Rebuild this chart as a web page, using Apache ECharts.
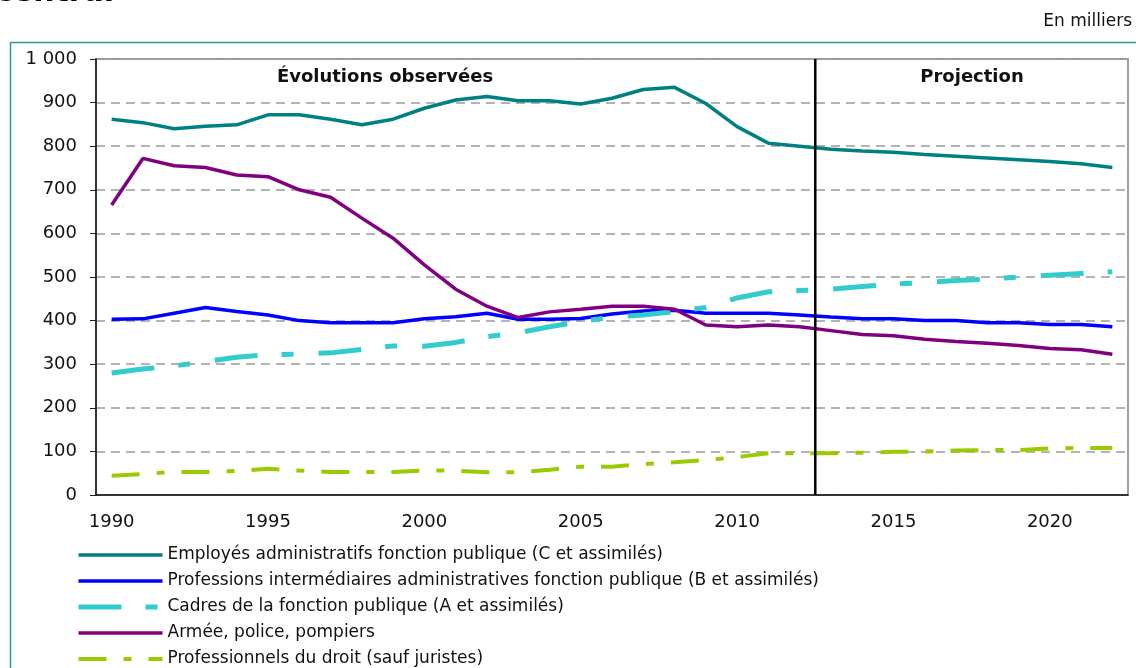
<!DOCTYPE html>
<html>
<head>
<meta charset="utf-8">
<script src="https://cdn.jsdelivr.net/npm/echarts@6/dist/echarts.min.js"></script>
<style>
  html, body { margin: 0; background: #fff; }
  #chart { width: 1136px; height: 668px; }
</style>
</head>
<body>
<div id="chart"></div>
<script>
// yearly values, in thousands
const years = ['1990', '1991', '1992', '1993', '1994', '1995', '1996', '1997', '1998', '1999',
  '2000', '2001', '2002', '2003', '2004', '2005', '2006', '2007', '2008', '2009',
  '2010', '2011', '2012', '2013', '2014', '2015', '2016', '2017', '2018', '2019',
  '2020', '2021', '2022'];

const employesC = [862, 854, 840, 846, 849, 872, 872, 862, 849, 862,
  887, 906, 914, 904, 904, 897, 910, 930, 935, 898,
  845, 807, 800, 793, 789, 786, 781, 777, 773, 769,
  765, 760, 751];

const professionsB = [403, 404, 417, 430, 421, 413, 400, 395, 395, 395,
  404, 409, 417, 403, 403, 405, 415, 422, 424, 417,
  417, 417, 413, 408, 404, 404, 400, 400, 395, 395,
  391, 391, 386];

const cadresA = [280, 289, 296, 306, 316, 322, 323, 326, 334, 342,
  341, 350, 363, 372, 386, 398, 408, 413, 421, 430,
  452, 466, 469, 472, 478, 484, 487, 492, 495, 500,
  504, 508, 512];

const armee = [665, 772, 755, 751, 734, 730, 700, 683, 635, 589,
  528, 472, 433, 407, 420, 426, 433, 433, 426, 390,
  386, 390, 386, 377, 368, 365, 357, 352, 348, 343,
  336, 333, 323];

const droit = [44, 48, 53, 53, 55, 60, 56, 53, 53, 53,
  56, 56, 52, 52, 58, 65, 65, 71, 75, 80,
  87, 96, 96, 96, 97, 99, 100, 102, 103, 103,
  107, 108, 108];

const seriesNames = [
  'Employés administratifs fonction publique (C et assimilés)',
  'Professions intermédiaires administratives fonction publique (B et assimilés)',
  'Cadres de la fonction publique (A et assimilés)',
  'Armée, police, pompiers',
  'Professionnels du droit (sauf juristes)'
];

// boundary between observed years and projection (between 2012 and 2013)
const projectionStart = 2012.5;

const font = 'DejaVu Sans';
const chart = echarts.init(document.getElementById('chart'));

function lineSeries(name, data, color, width, type) {
  return {
    name: name,
    type: 'line',
    data: data,
    symbol: 'none',
    lineStyle: { color: color, width: width, type: type || 'solid', cap: 'butt' },
    itemStyle: { color: color },
    emphasis: { disabled: true },
    animation: false
  };
}

const option = {
  animation: false,
  grid: {
    left: 96, right: 8, top: 59, bottom: 173,
    show: true, borderColor: '#a0a0a0', borderWidth: 2
  },
  xAxis: [
    {
      type: 'category',
      data: years,
      boundaryGap: true,
      axisLine: { lineStyle: { color: '#111', width: 1.5 } },
      axisTick: { interval: 0, length: 6, lineStyle: { color: '#222', width: 1 } },
      axisLabel: { interval: 4, margin: 18, fontFamily: font, fontSize: 18, color: '#111' },
      splitLine: { show: false }
    },
    {
      type: 'value', min: 1989.5, max: 2022.5, show: false
    }
  ],
  yAxis: {
    type: 'value',
    min: 0, max: 1000, interval: 100,
    axisLine: { show: true, lineStyle: { color: '#111', width: 1.5 } },
    axisTick: { show: true, length: 6, lineStyle: { color: '#222', width: 1 } },
    axisLabel: {
      margin: 19, fontFamily: font, fontSize: 18, color: '#111',
      formatter: v => String(v).replace(/\B(?=(\d{3})+(?!\d))/g, ' ')
    },
    splitLine: { lineStyle: { color: '#9a9a9a', width: 1.5, type: [9, 6] } }
  },
  legend: {
    data: seriesNames,
    orient: 'vertical',
    left: 71, top: 540, height: 200,
    itemWidth: 84, itemHeight: 20, itemGap: 6,
    selectedMode: false,
    itemStyle: { opacity: 0 },
    lineStyle: { width: 'inherit', type: 'inherit' },
    textStyle: { fontFamily: font, fontSize: 17, color: '#111', lineHeight: 20 }
  },
  series: [
    lineSeries(seriesNames[0], employesC, '#008080', 3.5),
    lineSeries(seriesNames[1], professionsB, '#0000ff', 3.5),
    lineSeries(seriesNames[2], cadresA, '#33cccc', 5, [43, 24, 12, 25]),
    lineSeries(seriesNames[3], armee, '#800080', 3.5),
    lineSeries(seriesNames[4], droit, '#99cc00', 4, [28, 17, 8, 17]),
    {
      name: 'separator',
      type: 'line',
      xAxisIndex: 1,
      data: [[projectionStart, 0], [projectionStart, 1000]],
      symbol: 'none',
      lineStyle: { color: '#000', width: 2.5 },
      z: 5,
      emphasis: { disabled: true }
    }
  ],
  graphic: [
    {
      type: 'rect', silent: true,
      shape: { x: 10.5, y: 42.5, width: 1200, height: 700 },
      style: { fill: 'none', stroke: '#2a9a98', lineWidth: 1.5 }
    },
    {
      type: 'text', x: -5, y: 8,
      style: { text: 'central', font: 'bold 30px "DejaVu Sans"', fill: '#000', verticalAlign: 'bottom' }
    },
    {
      type: 'text', right: 4, top: 13,
      style: { text: 'En milliers', font: '17px "DejaVu Sans"', fill: '#111' }
    },
    {
      type: 'text', x: 385, y: 77,
      style: { text: 'Évolutions observées', font: 'bold 18px "DejaVu Sans"', fill: '#111',
        align: 'center', verticalAlign: 'middle' }
    },
    {
      type: 'text', x: 972, y: 77,
      style: { text: 'Projection', font: 'bold 18px "DejaVu Sans"', fill: '#111',
        align: 'center', verticalAlign: 'middle' }
    }
  ]
};

chart.setOption(option);
</script>
</body>
</html>
